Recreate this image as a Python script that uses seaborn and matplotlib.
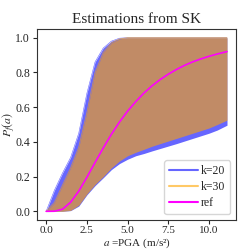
import numpy as np
import pandas as pd
import matplotlib
matplotlib.use("Agg")
import matplotlib.pyplot as plt
import seaborn as sns

# PGA grid (m/s^2)
pga = [0.0, 0.5, 1.0, 1.5, 2.0, 2.5, 3.0, 3.5, 4.0, 4.5, 5.0, 5.5, 6.0,
       6.5, 7.0, 7.5, 8.0, 8.5, 9.0, 9.5, 10.0, 10.5, 11.1]

# k=20 bounds
k20_upper = [0.0, 0.12, 0.22, 0.31, 0.45, 0.68, 0.86, 0.94, 0.98, 0.997, 1.0, 1.0,
             1.0, 1.0, 1.0, 1.0, 1.0, 1.0, 1.0, 1.0, 1.0, 1.0, 1.0]
k20_lower = [0.0, 0.0, 0.0, 0.004, 0.03, 0.095, 0.148, 0.193, 0.24, 0.275, 0.30, 0.32,
             0.333, 0.348, 0.362, 0.376, 0.39, 0.405, 0.42, 0.435, 0.45, 0.468, 0.496]

# k=30 bounds
k30_upper = [0.0, 0.05, 0.15, 0.25, 0.37, 0.57, 0.80, 0.915, 0.97, 0.993, 1.0, 1.0,
             1.0, 1.0, 1.0, 1.0, 1.0, 1.0, 1.0, 1.0, 1.0, 1.0, 1.0]
k30_lower = [0.0, 0.0, 0.0, 0.005, 0.035, 0.10, 0.155, 0.20, 0.25, 0.29, 0.32, 0.34,
             0.357, 0.375, 0.39, 0.405, 0.42, 0.435, 0.45, 0.465, 0.48, 0.50, 0.525]

# reference fragility curve
ref = [0.0, 0.0005, 0.012, 0.052, 0.116, 0.196, 0.281, 0.364, 0.443, 0.514, 0.577,
       0.632, 0.681, 0.723, 0.759, 0.790, 0.817, 0.841, 0.861, 0.878, 0.893, 0.906, 0.920]

sns.set_theme(style="ticks")
plt.rcParams["font.family"] = ["serif"]
plt.rcParams["font.serif"] = ["Liberation Serif", "DejaVu Serif"]
plt.rcParams["mathtext.fontset"] = "stix"
plt.rcParams["axes.edgecolor"] = "0.2"

fig = plt.figure(figsize=(2.49, 2.49), dpi=100)
ax = fig.add_axes([0.149, 0.1165, 0.799, 0.767])

df = pd.DataFrame({"pga": pga, "u20": k20_upper, "l20": k20_lower,
                   "u30": k30_upper, "l30": k30_lower, "ref": ref})

ax.fill_between(df["pga"], df["l20"], df["u20"], color="blue", alpha=0.6, lw=0)
ax.fill_between(df["pga"], df["l30"], df["u30"], color="orange", alpha=0.6, lw=0)
sns.lineplot(data=df, x="pga", y="u20", color="blue", alpha=0.6, lw=0.4, label="k=20", ax=ax)
sns.lineplot(data=df, x="pga", y="u30", color="orange", alpha=0.6, lw=0.6, label="k=30", ax=ax)
sns.lineplot(data=df, x="pga", y="ref", color="magenta", lw=1.2, label="ref", ax=ax)

ax.set_xlim(-0.555, 11.655)
ax.set_ylim(-0.05, 1.05)
ax.set_xticks([0.0, 2.5, 5.0, 7.5, 10.0])
ax.set_yticks([0.0, 0.2, 0.4, 0.6, 0.8, 1.0])
ax.tick_params(labelsize=8.5, length=3, width=0.8, pad=2)
ax.tick_params(axis="x", pad=1, labelsize=8)
ax.set_title("Estimations from SK", fontsize=11, pad=4)
ax.set_xlabel("$a$ =PGA (m/s²)", fontsize=8)
ax.set_ylabel(r"$P_f(a)$", fontsize=8.5)
ax.xaxis.set_label_coords(0.5, -0.085)
ax.yaxis.set_label_coords(-0.1, 0.5)
for s in ax.spines.values():
    s.set_linewidth(0.8)

leg = ax.legend(loc="lower right", fontsize=8.5, frameon=True, handlelength=2.4,
                borderpad=0.4, labelspacing=0.35, handletextpad=0.3)
leg.get_frame().set_edgecolor("0.8")
for ln in leg.get_lines():
    ln.set_linewidth(1.5)

fig.savefig("out.png", dpi=100)
